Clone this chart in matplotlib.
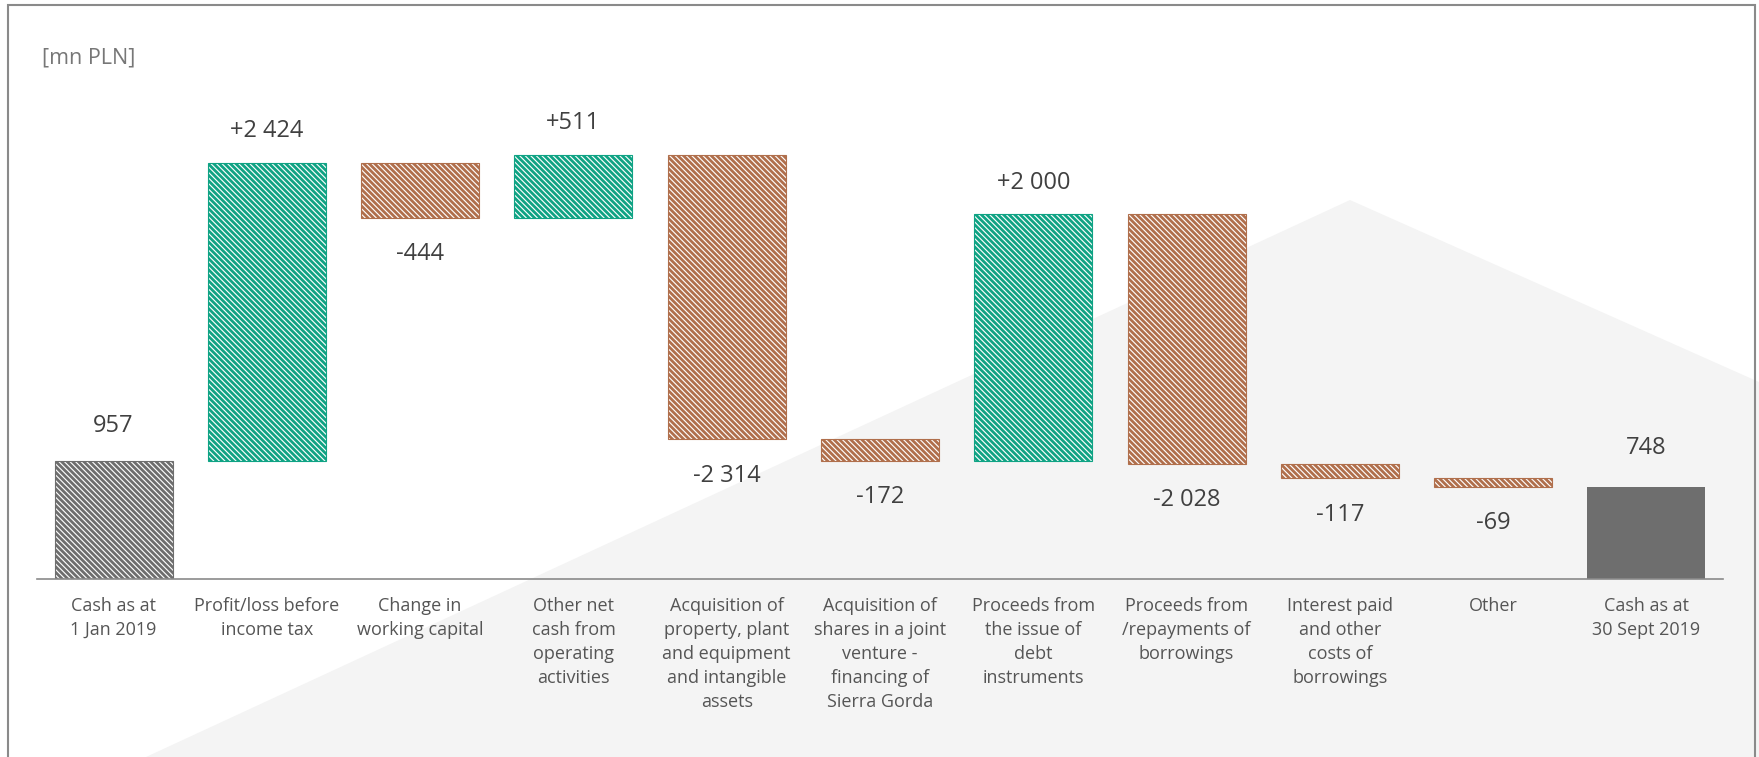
import matplotlib.pyplot as plt
from matplotlib.patches import Polygon, Rectangle
import numpy as np

plt.rcParams['font.family'] = ['Open Sans', 'DejaVu Sans']
plt.rcParams['hatch.linewidth'] = 2.0

categories = [
    "Cash as at\n1 Jan 2019",
    "Profit/loss before\nincome tax",
    "Change in\nworking capital",
    "Other net\ncash from\noperating\nactivities",
    "Acquisition of\nproperty, plant\nand equipment\nand intangible\nassets",
    "Acquisition of\nshares in a joint\nventure -\nfinancing of\nSierra Gorda",
    "Proceeds from\nthe issue of\ndebt\ninstruments",
    "Proceeds from\n/repayments of\nborrowings",
    "Interest paid\nand other\ncosts of\nborrowings",
    "Other",
    "Cash as at\n30 Sept 2019",
]
opening = 957
changes = [2424, -444, 511, -2314, -172, 2000, -2028, -117, -69]
closing = 748

green = "#0fa384"
brown = "#b06f4c"
gray = "#6e6e6e"
text_col = "#404040"
hatch = "\\" * 6


def fmt(v, sign=True):
    s = f"{abs(v):,}".replace(",", " ")
    if not sign:
        return s
    return ("+" if v > 0 else "-") + s


fig = plt.figure(figsize=(17.59, 7.57), dpi=100)

# light background shape and frame
fig.patches.append(Polygon([(146 / 1759, 0), (1350 / 1759, 1 - 200 / 757),
                            (1, 1 - 382 / 757), (1, 0)],
                           closed=True, transform=fig.transFigure,
                           facecolor="#f4f4f4", edgecolor="none", zorder=-2))
fig.patches.append(Rectangle((8 / 1759, -0.1), (1755 - 8) / 1759, 1.1 - 5 / 757,
                             transform=fig.transFigure, fill=False,
                             edgecolor="#8a8a8a", linewidth=1.5, zorder=-1))

ax = fig.add_axes([37 / 1759, 178 / 757, 1686 / 1759, 480 / 757])
ax.patch.set_alpha(0)

x = np.arange(len(categories))
w = 0.77

# opening bar
ax.bar(x[0], opening, width=w, facecolor="white", edgecolor=gray,
       hatch=hatch, linewidth=0.8)
ax.annotate(fmt(opening, False), (x[0], opening), xytext=(0, 25),
            textcoords="offset points", ha="center", va="center",
            fontsize=17, color=text_col)

# changes
level = opening
for i, v in enumerate(changes, start=1):
    col = green if v > 0 else brown
    bottom = level if v > 0 else level + v
    ax.bar(x[i], abs(v), bottom=bottom, width=w, facecolor="white",
           edgecolor=col, hatch=hatch, linewidth=0.8)
    if v > 0:
        ax.annotate(fmt(v), (x[i], level + v), xytext=(0, 23),
                    textcoords="offset points", ha="center", va="center",
                    fontsize=17, color=text_col)
    else:
        ax.annotate(fmt(v), (x[i], level + v), xytext=(0, -26),
                    textcoords="offset points", ha="center", va="center",
                    fontsize=17, color=text_col)
    level += v

# closing bar
ax.bar(x[-1], closing, width=w, color=gray)
ax.annotate(fmt(closing, False), (x[-1], closing), xytext=(0, 28),
            textcoords="offset points", ha="center", va="center",
            fontsize=17, color=text_col)

ax.set_xlim(-0.5, len(categories) - 0.5)
ax.set_ylim(0, 3900)
ax.set_xticks(x)
ax.set_xticklabels(categories, fontsize=13, color="#555555", linespacing=1.42)
ax.tick_params(axis="x", length=0, pad=13)
ax.set_yticks([])
for s in ["top", "right", "left"]:
    ax.spines[s].set_visible(False)
ax.spines["bottom"].set_color("#8a8a8a")
ax.spines["bottom"].set_linewidth(1.2)

fig.text(42 / 1759, 1 - 58 / 757, "[mn PLN]", fontsize=15.5, color="#777777",
         ha="left", va="center")

fig.savefig("out.png", dpi=100)
